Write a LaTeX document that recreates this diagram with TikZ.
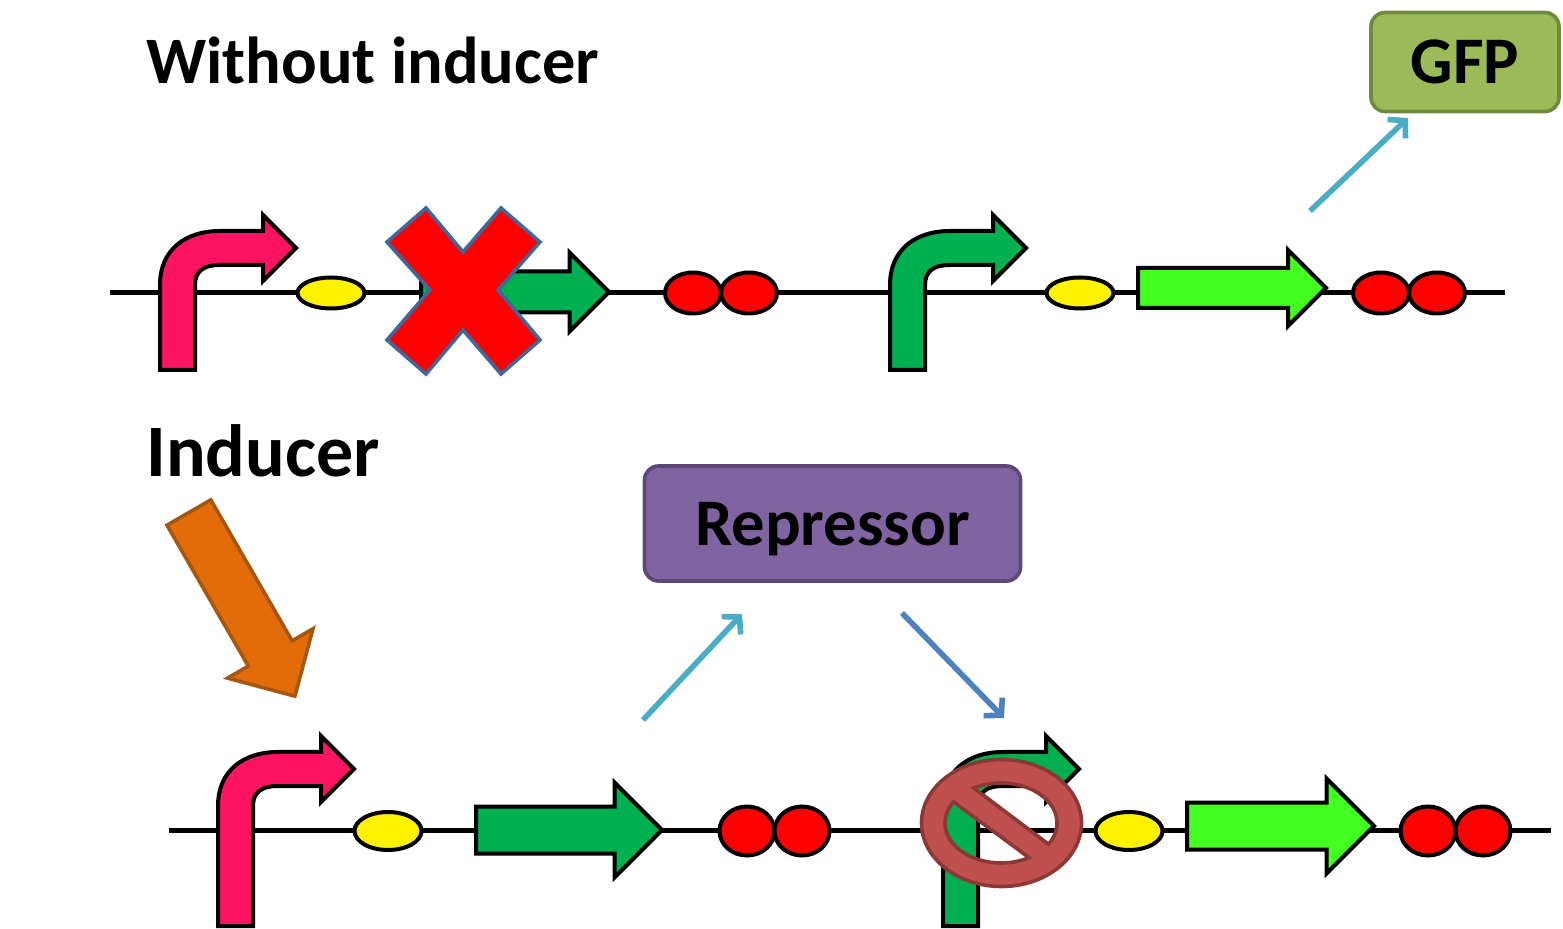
\documentclass[tikz,border=0pt]{standalone}
\usepackage{fontspec}
\setmainfont{Carlito}
\usetikzlibrary{positioning}
\usetikzlibrary{shapes.geometric}
\usetikzlibrary{shapes.arrows}
\usetikzlibrary{arrows.meta}
\definecolor{pinkpro}{HTML}{FF1464}
\definecolor{darkgene}{HTML}{00B050}
\definecolor{brightgene}{HTML}{44FF22}
\definecolor{gfpfill}{HTML}{9BBB59}
\definecolor{gfpline}{HTML}{71893F}
\definecolor{repfill}{HTML}{8064A2}
\definecolor{repline}{HTML}{5C4776}
\definecolor{inducerfill}{HTML}{E36C0A}
\definecolor{inducerline}{HTML}{A5560F}
\definecolor{crossline}{HTML}{3F6797}
\definecolor{signfill}{HTML}{C0504D}
\definecolor{signline}{HTML}{8C3836}
\definecolor{tealflow}{HTML}{4BACC6}
\definecolor{blueflow}{HTML}{4F81BD}
\begin{document}
\begin{tikzpicture}[
      x=0.5pt, y=-0.5pt, >={Straight Barb[length=6pt,width=13pt,line width=2.8pt]},
      dna/.style={line width=2.5pt},
      rbs/.style={ellipse, draw, line width=2pt, fill=yellow, inner sep=0pt, minimum width=33.5pt, minimum height=#1},
      term/.style={ellipse, draw, line width=2pt, fill=red, inner sep=0pt},
      gene/.style={single arrow, draw, line width=2pt, inner xsep=0pt, anchor=tail},
      protein/.style={draw, rounded corners=7pt, line width=1.8pt, text height=22pt, text depth=0pt, font=\bfseries\fontsize{33.3}{33.3}\selectfont},
      heading/.style={anchor=base west, inner sep=0pt, font=\bfseries\fontsize{33.2}{33.2}\selectfont},
      flow/.style={->, line width=2.8pt},
      pics/promoter/.style 2 args={code={
        \draw[line width=2pt, fill=#1] (0,0) -- (35,0) -- (35,-#2)
          .. controls +(0,-14) and +(-16,0) .. ++(25,-20) -- ++(43,0) -- ++(0,16)
          -- ++(33,-33) -- ++(-33,-33) -- ++(0,16) -- ++(-43,0)
          .. controls +(-35,0) and +(0,-35) .. (0,-#2) -- cycle;
      }}]
      \useasboundingbox (0,0) rectangle (1563,929);
      % backbone first, parts sit on top of it
      \coordinate (topstart) at (110,293);
      \coordinate (topend) at (1505,293);
      \coordinate (lowstart) at (169,830);
      \coordinate (lowend) at (1551,830);
      \draw[dna] (topstart) -- (topend);
      \draw[dna] (lowstart) -- (lowend);

      \node[heading] (without) at (146,84) {Without inducer};
      \node[heading, font=\bfseries\fontsize{37}{37}\selectfont] (inducer) at (146,477) {Inducer};

      % upper construct
      \pic at (160,370) {promoter={pinkpro}{85}};
      \node[rbs=15.5pt] (rbs1) at (331,293) {};
      \node[gene, fill=darkgene, inner ysep=9.25pt, minimum height=94pt, minimum width=37.5pt, single arrow head extend=9.5pt] (rep1) at (419,292) {};
      \node[term, minimum width=28pt, minimum height=20.5pt] (t1) at (693,293) {};
      \node[term, minimum width=28pt, minimum height=20.5pt] (t2) at (749,293) {};
      \pic at (890,370) {promoter={darkgene}{85}};
      \node[rbs=15.5pt] (rbs2) at (1080,293) {};
      \node[gene, fill=brightgene, inner ysep=9pt, minimum height=94pt, minimum width=36pt, single arrow head extend=9pt] (gfp1) at (1136,288) {};
      \node[term, minimum width=28pt, minimum height=20.5pt] (t3) at (1381,293) {};
      \node[term, minimum width=28pt, minimum height=20.5pt] (t4) at (1437,293) {};

      % the cross hides the upper repressor gene
      \draw[line width=1.8pt, draw=crossline, fill=red] (426,208) -- (463,252) -- (501,208) -- (540,242)
        -- (498,290) -- (540,340) -- (501,374) -- (463,330) -- (426,374) -- (387,340) -- (430,290) -- (387,242) -- cycle;

      \node[protein, fill=gfpfill, draw=gfpline, minimum width=94pt, minimum height=49.5pt] (gfp) at (1465,62) {GFP};
      \coordinate (gfpfrom) at (1310,211);
      \coordinate (gfpto) at (1408,118);
      \draw[flow, tealflow] (gfpfrom) -- (gfpto);

      % lower construct
      \node[gene, fill=inducerfill, draw=inducerline, line width=1.8pt, inner ysep=11.75pt, rotate=-60, minimum height=106pt, minimum width=47.5pt, single arrow head extend=12pt] (signal) at (188,511) {};
      \pic at (218,926) {promoter={pinkpro}{120}};
      \node[rbs=19pt] (rbs3) at (388,831) {};
      \node[gene, fill=darkgene, inner ysep=10.75pt, minimum height=93pt, minimum width=45.5pt, single arrow head extend=12pt] (rep2) at (474,830) {};
      \node[term, minimum width=27.5pt, minimum height=24.5pt] (t5) at (747,831) {};
      \node[term, minimum width=27.5pt, minimum height=24.5pt] (t6) at (802,831) {};
      \pic at (943,926) {promoter={darkgene}{120}};
      \node[rbs=19pt] (rbs4) at (1129,831) {};
      \node[gene, fill=brightgene, inner ysep=10.75pt, minimum height=93.5pt, minimum width=45.5pt, single arrow head extend=12pt] (gfp2) at (1185,826) {};
      \node[term, minimum width=27.5pt, minimum height=24.5pt] (t7) at (1428,831) {};
      \node[term, minimum width=27.5pt, minimum height=24.5pt] (t8) at (1483,831) {};

      \node[protein, fill=repfill, draw=repline, minimum width=188pt, minimum height=57.5pt] (repressor) at (832.5,523.5) {Repressor};
      \coordinate (repfrom) at (643,720);
      \coordinate (repto) at (742,614);
      \coordinate (blockfrom) at (902,613);
      \coordinate (blockto) at (1004,718);
      \draw[flow, tealflow] (repfrom) -- (repto);
      \draw[flow, blueflow] (blockfrom) -- (blockto);

      % no-entry sign over the second promoter
      \draw[line width=1.8pt, draw=signline, fill=signfill, even odd rule]
        (1001.5,823) ellipse [x radius=80, y radius=63.5]
        plot[domain=-119:32, samples=40] ({1001+56*cos(\x)},{823+40*sin(\x)}) -- cycle
        plot[domain=60:212, samples=40] ({1001+56*cos(\x)},{823+40*sin(\x)}) -- cycle;
    \end{tikzpicture}
\end{document}
